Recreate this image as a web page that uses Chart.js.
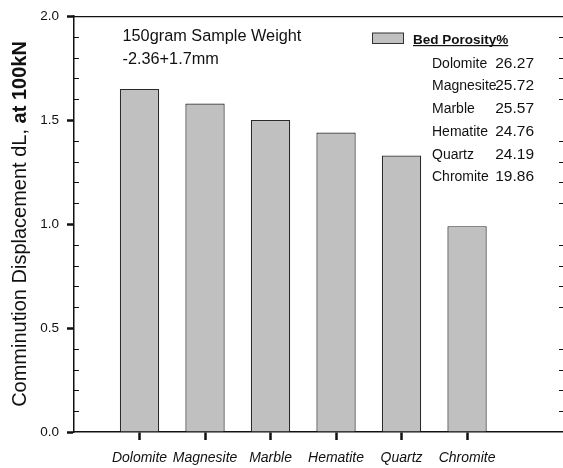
<!DOCTYPE html>
<html>
<head>
<meta charset="utf-8">
<script src="https://cdn.jsdelivr.net/npm/chart.js@4/dist/chart.umd.min.js"></script>
<style>
  html, body { margin: 0; padding: 0; background: #fff; overflow: hidden; }
  #wrap { width: 563px; height: 468px; overflow: hidden; }
  canvas { display: block; }
</style>
</head>
<body>
<div id="wrap"><canvas id="dispChart" width="570" height="468"></canvas></div>
<script>
// ===== COMMINUTION DISPLACEMENT @ 100kN =====
const minerals = ['Dolomite', 'Magnesite', 'Marble', 'Hematite', 'Quartz', 'Chromite'];
const displacement = [1.65, 1.58, 1.50, 1.44, 1.33, 0.99];
const porosity = ['26.27', '25.72', '25.57', '24.76', '24.19', '19.86'];
const yTicks = [0, 0.5, 1.0, 1.5, 2.0];
const noteLines = ['150gram Sample Weight', '-2.36+1.7mm'];

const FONT = '"Liberation Sans", Arial, Helvetica, sans-serif';
const INK = '#111';

// minor ticks, frame, axis title, note and porosity legend
const extras = {
  id: 'extras',
  afterDraw(chart) {
    const { ctx, chartArea: a, scales } = chart;
    const y = scales.y;
    ctx.save();

    // top frame line
    ctx.strokeStyle = INK;
    ctx.lineWidth = 1.3;
    ctx.beginPath();
    ctx.moveTo(a.left, a.top + 0.5);
    ctx.lineTo(a.right, a.top + 0.5);
    ctx.lineTo(a.right, a.bottom);
    ctx.stroke();

    // minor ticks every 0.1, inside on both sides
    ctx.lineWidth = 1;
    for (let i = 1; i < 20; i++) {
      if (i % 5 === 0) continue;
      const py = Math.round(y.getPixelForValue(i / 10)) + 0.5;
      ctx.beginPath();
      ctx.moveTo(a.left, py); ctx.lineTo(a.left + 5, py);
      ctx.moveTo(a.right, py); ctx.lineTo(a.right - 5, py);
      ctx.stroke();
    }

    // y axis title: regular part + bold part
    const partA = 'Comminution Displacement dL, ';
    const partB = 'at 100kN';
    const fA = '20px ' + FONT, fB = 'bold 20px ' + FONT;
    ctx.font = fA; const wA = ctx.measureText(partA).width;
    ctx.font = fB; const wB = ctx.measureText(partB).width;
    ctx.translate(26, 224);
    ctx.rotate(-Math.PI / 2);
    ctx.fillStyle = INK;
    ctx.textBaseline = 'alphabetic';
    ctx.textAlign = 'left';
    const x0 = -(wA + wB) / 2;
    ctx.font = fA; ctx.fillText(partA, x0, 0);
    ctx.font = fB; ctx.fillText(partB, x0 + wA, 0);
    ctx.setTransform(1, 0, 0, 1, 0, 0);

    // sample note
    ctx.font = '16.3px ' + FONT;
    ctx.fillText(noteLines[0], 122.5, 41);
    ctx.fillText(noteLines[1], 122.5, 63.5);

    // legend swatch + heading
    ctx.fillStyle = '#c0c0c0';
    ctx.fillRect(372.5, 33, 31, 10.5);
    ctx.strokeStyle = '#333';
    ctx.lineWidth = 1;
    ctx.strokeRect(372.5, 33, 31, 10.5);
    ctx.fillStyle = INK;
    ctx.font = 'bold 13.5px ' + FONT;
    const head = 'Bed Porosity%';
    const hw = ctx.measureText(head).width;
    ctx.fillText(head, 413, 43.5);
    ctx.fillRect(413, 45, hw, 1.2);

    // porosity list
    minerals.forEach((m, i) => {
      const by = 67.7 + i * 22.75;
      ctx.textAlign = 'left';
      ctx.font = '14px ' + FONT;
      ctx.fillText(m, 432, by);
      ctx.textAlign = 'right';
      ctx.font = '15.5px ' + FONT;
      ctx.fillText(porosity[i], 534, by);
    });

    ctx.restore();
  }
};

new Chart(document.getElementById('dispChart'), {
  type: 'bar',
  data: {
    datasets: [{
      label: 'Displacement',
      data: displacement.map((v, i) => ({ x: i + 1, y: v })),
      backgroundColor: '#c0c0c0',
      borderColor: '#2a2a2a',
      borderWidth: 1.2,
      borderSkipped: 'bottom',
      barPercentage: 0.6,
      categoryPercentage: 1.0
    }]
  },
  options: {
    responsive: false,
    animation: false,
    devicePixelRatio: 1,
    layout: { padding: { top: 15, right: 6, left: 0, bottom: 0 } },
    plugins: { legend: { display: false }, tooltip: { enabled: false } },
    scales: {
      x: {
        type: 'linear',
        min: 0,
        max: 7.48,
        offset: false,
        afterFit: s => { s.height = 36; },
        afterBuildTicks: s => { s.ticks = minerals.map((_, i) => ({ value: i + 1 })); },
        ticks: {
          autoSkip: false,
          maxRotation: 0,
          padding: 10,
          color: INK,
          font: { family: FONT, size: 14, style: 'italic' },
          callback: v => minerals[v - 1]
        },
        grid: { offset: false, drawOnChartArea: false, tickLength: 8, tickWidth: 2.5, tickColor: INK },
        border: { color: INK, width: 1.5 }
      },
      y: {
        min: 0,
        max: 2,
        afterFit: s => { s.width = 74; },
        afterBuildTicks: s => { s.ticks = yTicks.map(v => ({ value: v })); },
        ticks: {
          padding: 8,
          color: INK,
          font: { family: FONT, size: 13.5 },
          callback: v => v.toFixed(1)
        },
        grid: { drawOnChartArea: false, tickLength: 7, tickWidth: 2.5, tickColor: INK },
        border: { color: INK, width: 1.5 }
      }
    }
  },
  plugins: [extras]
});
</script>
</body>
</html>
